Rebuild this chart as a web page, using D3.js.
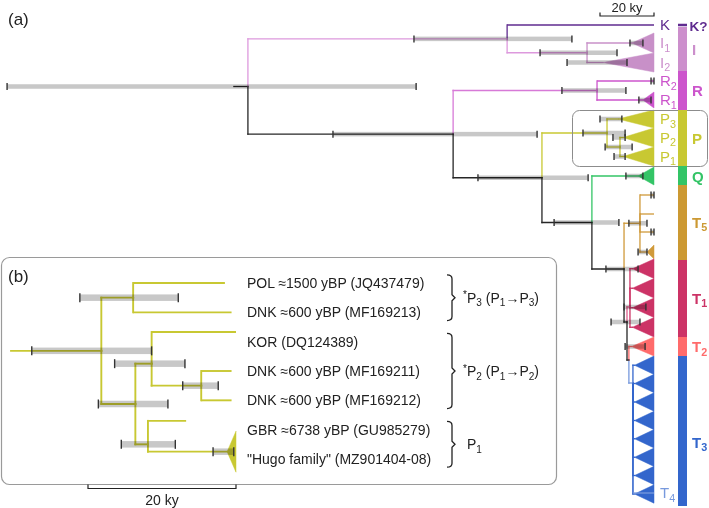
<!DOCTYPE html>
<html><head><meta charset="utf-8">
<script src="https://cdn.jsdelivr.net/npm/d3@7"></script>
<style>
body{margin:0;background:#fff}
svg{display:block}
text{font-family:"Liberation Sans",Arial,Helvetica,sans-serif}
.ci{mix-blend-mode:multiply}
</style>
</head><body>
<svg id="c" width="709" height="508"></svg>
<script>
// ================= DATA: panel (a) =================
// internal nodes (age in ky before present)
const aNodeIds     = ["root","KI","I","RPQT","R","PQT","P","P21","QT","T","T5","T123","T1","T23","T3"];
const aNodeParents = [null,"root","KI","root","RPQT","RPQT","PQT","P","PQT","QT","T","T","T123","T123","T23"];
const aNodeAges    = [150.4,54.4,24.8,74.4,21.1,41.5,17.4,12.6,23.0,11.1,5.2,10.0,8.9,9.3,7.8];
const aNodeCI      = [[239.6,88.1],[88.9,30.4],[42.2,13.7],[118.9,43.3],[34.1,10.4],[65.2,24.4],[26.3,10.7],[18.1,8.1],[37.0,13.0],[17.8,5.9],[9.3,2.6],[15.9,5.2],[11.1,3.0],null,null];
const aNodeRowFix  = [null,null,null,null,null,null,null,null,null,49.8,null,60.4,57.4,68.0,72.6];
const aNodeGroup   = ["bb","Ib","Ib","bb","Rb","bb","P","P","bb","bb","T5","bb","T1b","bb","T4"];
const aRootStubAge = 155.6;

// tips (lines or collapsed triangles)
const aTipIds     = ["K","I1","I2","R2","R1","P3","P2","P1","Q","T5a","T5b","T5c","T5d","T1a","T1b","T1c","T1d","T2","T4","T3a","T3b","T3c","T3d","T3e","T3f","T3g","T3h"];
const aTipParents = ["KI","I","I","R","R","P","P21","P21","QT","T5","T5","T5","T5","T1","T1","T1","T1","T23","T3","T3","T3","T3","T3","T3","T3","T3","T3"];
const aTipShape   = ["line","tri","tri","line","tri","tri","tri","tri","tri","line","line","line","tri","tri","tri","tri","tri","tri","line","tri","tri","tri","tri","tri","tri","tri","tri"];
const aTipAges    = [0,8.2,18.9,0,4.1,13.3,11.5,11.5,5.9,0,0,0,2.6,8.0,8.0,8.0,8.0,8.3,0,7.2,7.2,7.2,7.2,7.2,7.2,7.2,7.2];
const aTipRows    = [1.0,4.6,8.5,12.2,16.0,19.8,23.5,27.3,31.2,35.0,38.8,42.4,46.4,49.75,53.65,57.55,61.45,65.3,94.6,69.05,72.7,76.4,80.1,83.75,87.45,91.1,94.8];
const aTipSpans   = [0,2.0,1.9,0,1.6,1.8,1.9,1.9,1.8,0,0,0,1.4,1.95,1.95,1.95,1.95,1.9,0,1.84,1.84,1.84,1.84,1.84,1.84,1.84,1.84];
const aTipCI      = [null,[8.9,4.1],[32.2,10.0],[1.1,0],[5.6,1.1],[20.0,11.9],[15.2,10.7],[14.8,10.7],[10.4,4.1],[1.1,0],null,[1.1,0],[5.9,2.6],null,null,null,null,[10.7,3.3],null,null,null,null,null,null,null,null,null];
const aTipGroup   = ["K","I","I","R","R","P","P","P","Q","T5","T5","T5","T5","T1","T1","T1","T1","T2","T4","T3","T3","T3","T3","T3","T3","T3","T3"];

const aTipLabelIds  = ["K","I1","I2","R2","R1","P3","P2","P1","T4"];
const aTipLabelText = ["K","I_1","I_2","R_2","R_1","P_3","P_2","P_1","T_4"];

// clade colour bar
const cladeNames    = ["K?","I","R","P","Q","T_5","T_1","T_2","T_3"];
const cladeGroup    = ["K","I","R","P","Q","T5","T1","T2","T3"];
const cladeStart    = [0.75,1.4,10.2,18.0,29.2,33.0,48.0,63.4,67.2];
const cladeEnd      = [1.25,10.2,18.0,29.2,33.0,48.0,63.4,67.2,97.2];
const cladeLabelRow = [1.0,5.8,14.0,23.6,31.2,40.4,55.6,65.3,84.4];

// ================= DATA: panel (b) =================
const bNodeIds     = ["root","A","B","C","E","D"];
const bNodeParents = [null,"root","root","B","C","B"];
const bNodeAges    = [18.2,13.9,13.6,11.4,4.7,11.9];
const bNodeCI      = [[27.6,11.4],[21.1,7.8],[18.6,9.2],[16.4,6.9],[7.2,2.4],[15.5,8.2]];
const bNodeRowFix  = [null,null,null,2.75,null,5.5];
const bRootStubAge = 30.4;

const bTipIds     = ["POL","DNK13","KOR","DNK11","DNK12","GBR","HUGO"];
const bTipLabels  = ["POL ≈1500 yBP (JQ437479)","DNK ≈600 yBP (MF169213)","KOR (DQ124389)","DNK ≈600 yBP (MF169211)","DNK ≈600 yBP (MF169212)","GBR ≈6738 yBP (GU985279)","\"Hugo family\" (MZ901404-08)"];
const bTipParents = ["A","A","C","E","E","D","D"];
const bTipAges    = [1.5,0.6,0,0.6,0.6,6.738,1.2];
const bTipRows    = [0,1,1.67,3,4,4.7,5.75];
const bTipShape   = ["line","line","line","line","line","line","tri"];
const bTipSpans   = [0,0,0,0,0,0,0.7];
const bTipCI      = [null,null,null,null,null,null,[3.1,0.3]];

const braceFrom   = [0,2,5];
const braceTo     = [1,4,6];
const braceLabels = ["^*P_3 (P_1→P_3)","^*P_2 (P_1→P_2)","P_1"];

// ================= STYLE =================
const color = {
  bb:"#262626", K:"#5f2b8f", Ib:"#dd99dd", I:"#c890c8", Rb:"#d77ad7", R:"#cc55cc",
  P:"#c8c832", Q:"#33c466", T5:"#d09a3a", T1b:"#e0608e", T1:"#cc3366", T2:"#ff6b6b",
  T3:"#3366cc", T4:"#7799dd"
};
const labelColor = {K:"#5f2b8f", I:"#cc8fcc", R:"#cc55cc", P:"#c8c832", Q:"#33c466",
  T5:"#cc9933", T1:"#cc3366", T2:"#ff6b6b", T3:"#3366cc", T4:"#7799dd"};

const svg = d3.select("#c");

function rich(sel, str, fs){
  let shift = 0;
  str.split(/(_\d|\^\*)/).filter(s => s.length).forEach(p => {
    let s = 0, size = fs, txt = p;
    if (p[0] === "_") { s = fs*0.25; size = fs*0.72; txt = p.slice(1); }
    else if (p[0] === "^") { s = -fs*0.3; size = fs*0.72; txt = p.slice(1); }
    sel.append("tspan").attr("dy", s - shift).attr("font-size", size).text(txt);
    shift = s;
  });
}

function buildTree(nIds, nPar, nAge, nCI, nFix, nGrp, tIds, tPar, tAge, tRow, tShape, tSpan, tCI, tGrp){
  const m = new Map();
  nIds.forEach((id,i)=>m.set(id,{id,parent:nPar[i],age:nAge[i],ci:nCI[i],rowFix:nFix[i],group:nGrp?nGrp[i]:"P",children:[],tip:false}));
  tIds.forEach((id,i)=>m.set(id,{id,parent:tPar[i],age:tAge[i],row:tRow[i],shape:tShape[i],span:tSpan[i],ci:tCI[i],group:tGrp?tGrp[i]:"P",children:[],tip:true}));
  m.forEach(n=>{ if(n.parent) m.get(n.parent).children.push(n); });
  function rowOf(n){
    if (n.row !== undefined) return n.row;
    const mr = d3.mean(n.children, rowOf);
    n.row = (n.rowFix != null) ? n.rowFix : mr;
    return n.row;
  }
  m.forEach(n=>rowOf(n));
  return m;
}

function drawTree(g, m, x, y, stubAge, opt){
  const list = Array.from(m.values());
  const col = n => opt.col(n.group);
  const root = list.find(n=>!n.parent);
  const L = g.append("g").attr("fill","none").attr("stroke-width",opt.sw).attr("stroke-linecap","square");
  L.append("line").attr("x1",x(stubAge)).attr("x2",x(root.age)).attr("y1",y(root.row)).attr("y2",y(root.row)).attr("stroke",col(root));
  const edges = list.filter(n=>n.parent);
  edges.forEach(n=>{
    const p = m.get(n.parent);
    L.append("line").attr("x1",x(p.age)).attr("x2",x(p.age)).attr("y1",y(p.row)).attr("y2",y(n.row)).attr("stroke",col(n));
  });
  edges.filter(n=>!(n.tip && n.shape==="line")).forEach(n=>{
    const p = m.get(n.parent);
    L.append("line").attr("x1",x(p.age)).attr("x2",x(n.age)).attr("y1",y(n.row)).attr("y2",y(n.row)).attr("stroke",col(n));
  });
  const T = g.append("g");
  list.filter(n=>n.tip && n.shape==="tri").forEach(n=>{
    const pts = [[x(n.age),y(n.row)],[x(0),y(n.row-n.span)],[x(0),y(n.row+n.span)]];
    T.append("polygon").attr("points",pts.map(p=>p.join(",")).join(" ")).attr("fill",opt.fill(n.group)).attr("stroke",opt.fill(n.group)).attr("stroke-width",0.5);
  });
  const L2 = g.append("g").attr("stroke-width",opt.sw).attr("stroke-linecap","butt");
  edges.filter(n=>n.tip && n.shape==="line").forEach(n=>{
    const p = m.get(n.parent);
    L2.append("line").attr("x1",x(p.age)).attr("x2",x(n.age)).attr("y1",y(n.row)).attr("y2",y(n.row)).attr("stroke",col(n));
  });
  const C = g.append("g");
  list.filter(n=>n.ci).forEach(n=>{
    const x0 = x(n.ci[0]), x1 = x(n.ci[1]), yy = y(n.row);
    C.append("rect").attr("class","ci").attr("x",x0).attr("y",yy-opt.ciH/2).attr("width",x1-x0).attr("height",opt.ciH).attr("fill","#c8c8c8");
    [x0,x1].forEach(xx=>C.append("line").attr("x1",xx).attr("x2",xx).attr("y1",yy-opt.tickH/2).attr("y2",yy+opt.tickH/2).attr("stroke","#333").attr("stroke-width",1.4));
  });
}

// ================= PANEL (a) =================
const xA = d3.scaleLinear().domain([0,160]).range([654,222]);
const yA = d3.scaleLinear().domain([0,96]).range([20,500]);
const treeA = buildTree(aNodeIds,aNodeParents,aNodeAges,aNodeCI,aNodeRowFix,aNodeGroup,
  aTipIds,aTipParents,aTipAges,aTipRows,aTipShape,aTipSpans,aTipCI,aTipGroup);
const gA = svg.append("g");
drawTree(gA, treeA, xA, yA, aRootStubAge, {sw:1.3, ciH:4.5, tickH:7, col:k=>color[k], fill:k=>color[k]});

gA.append("rect").attr("x",572.5).attr("y",yA(18.0)+0.5).attr("width",135).attr("height",yA(29.2)-yA(18.0)).attr("rx",7)
  .attr("fill","none").attr("stroke","#8c8c8c").attr("stroke-width",1);

aTipLabelIds.forEach((id,i)=>{
  const n = treeA.get(id);
  const t = gA.append("text").attr("x",660).attr("y",yA(n.row)+5).attr("font-size",15).attr("fill",labelColor[n.group]);
  rich(t, aTipLabelText[i], 15);
});

cladeNames.forEach((nm,i)=>{
  gA.append("rect").attr("x",678).attr("y",yA(cladeStart[i])).attr("width",9).attr("height",yA(cladeEnd[i])-yA(cladeStart[i]))
    .attr("fill", i===0 ? color.K : labelColor[cladeGroup[i]]);
  const fs = i===0 ? 13.5 : 15;
  const t = gA.append("text").attr("x", i===0 ? 689.5 : 692).attr("y",yA(cladeLabelRow[i])+5.5).attr("font-size",fs).attr("font-weight","bold")
    .attr("fill",labelColor[cladeGroup[i]]);
  rich(t, nm, fs);
});

const sbA = gA.append("g").attr("stroke","#222").attr("stroke-width",1.2).attr("fill","none");
sbA.append("path").attr("d",`M${xA(20)},12.5V16H${xA(0)}V12.5`);
gA.append("text").attr("x",(xA(20)+xA(0))/2).attr("y",11.5).attr("text-anchor","middle").attr("font-size",13).attr("fill","#222").text("20 ky");
gA.append("text").attr("x",8).attr("y",25).attr("font-size",17).attr("fill","#222").text("(a)");

// ================= PANEL (b) =================
const gB = svg.append("g");
gB.append("rect").attr("x",1.5).attr("y",257.5).attr("width",555).attr("height",227).attr("rx",8)
  .attr("fill","#fff").attr("stroke","#9a9a9a").attr("stroke-width",1.2);
gB.append("text").attr("x",8).attr("y",282).attr("font-size",17).attr("fill","#222").text("(b)");

const xB = d3.scaleLinear().domain([0,30]).range([236,14]);
const yB = d3.scaleLinear().domain([0,6]).range([283,459]);
const treeB = buildTree(bNodeIds,bNodeParents,bNodeAges,bNodeCI,bNodeRowFix,null,
  bTipIds,bTipParents,bTipAges,bTipRows,bTipShape,bTipSpans,bTipCI,null);
drawTree(gB, treeB, xB, yB, bRootStubAge, {sw:1.9, ciH:6.5, tickH:9, col:()=>color.P, fill:()=>color.P});

bTipLabels.forEach((lab,i)=>{
  gB.append("text").attr("x",247).attr("y",yB(i)+5).attr("font-size",14).attr("fill","#222").text(lab);
});

braceFrom.forEach((f,i)=>{
  const y0 = yB(f-0.28), y1 = yB(braceTo[i]+0.28), ym = (y0+y1)/2, bx = 452;
  gB.append("path").attr("fill","none").attr("stroke","#222").attr("stroke-width",1.3)
    .attr("d",`M${bx-5},${y0} Q${bx},${y0} ${bx},${y0+4} V${ym-3} L${bx+3},${ym} L${bx},${ym+3} V${y1-4} Q${bx},${y1} ${bx-5},${y1}`);
  const t = gB.append("text").attr("x", i===2 ? 467 : 463).attr("y",ym+5).attr("font-size",14).attr("fill","#222");
  rich(t, braceLabels[i], 14);
});

gB.append("path").attr("d",`M${xB(20)},484.5V488.5H${xB(0)}V484.5`).attr("fill","none").attr("stroke","#222").attr("stroke-width",1.2);
gB.append("text").attr("x",(xB(20)+xB(0))/2).attr("y",505).attr("text-anchor","middle").attr("font-size",14).attr("fill","#222").text("20 ky");
</script>
</body></html>
